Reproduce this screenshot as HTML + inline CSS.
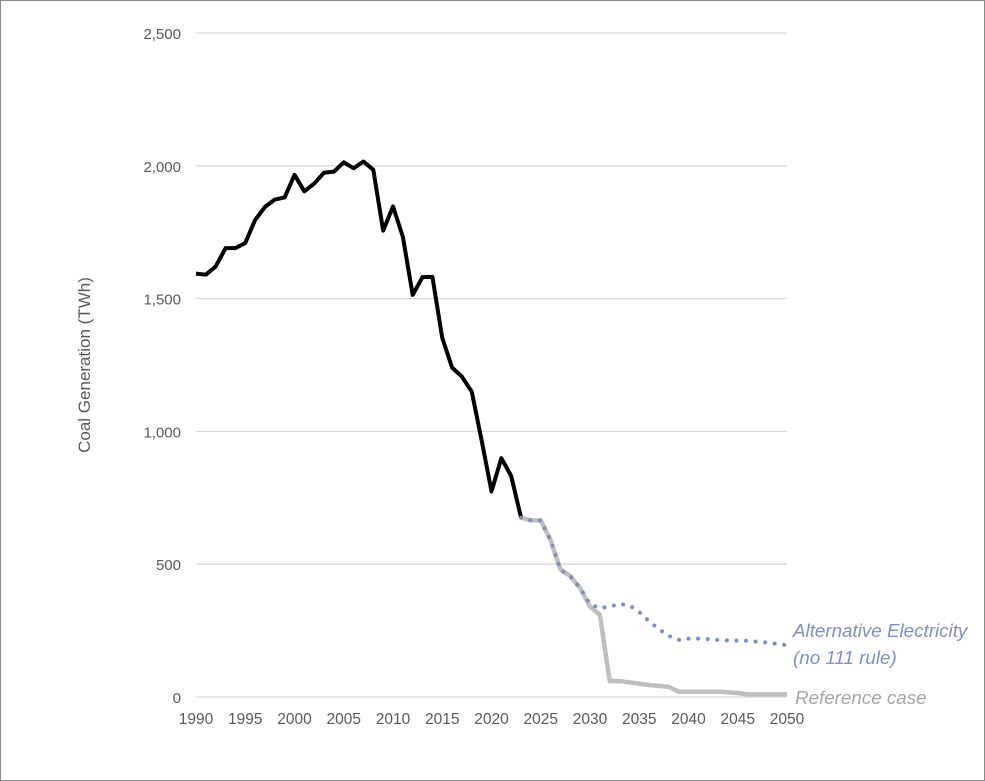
<!DOCTYPE html>
<html><head><meta charset="utf-8"><style>
html,body{margin:0;padding:0;background:#fff}
svg{display:block;font-family:"Liberation Sans",sans-serif}
</style></head><body>
<svg width="985" height="781">
<rect x="0.5" y="0.5" width="984" height="780" fill="#fff" stroke="#888"/>
<g id="grid"></g><g id="series"></g><g id="labels"></g>
<text x="90" y="365" transform="rotate(-90 90 365)" text-anchor="middle" font-size="17" fill="#595959">Coal Generation (TWh)</text>
<text x="793" y="637" font-size="18.8" font-style="italic" fill="#7f8fc4">Alternative Electricity</text>
<text x="793" y="664" font-size="18.8" font-style="italic" fill="#7f8fc4">(no 111 rule)</text>
<text x="795" y="704" font-size="18.8" font-style="italic" fill="#a6a6a6">Reference case</text>
</svg>
<script>
const histYears=[1990,1991,1992,1993,1994,1995,1996,1997,1998,1999,2000,2001,2002,2003,2004,2005,2006,2007,2008,2009,2010,2011,2012,2013,2014,2015,2016,2017,2018,2019,2020,2021,2022,2023];
const histValues=[1594,1590,1621,1690,1690,1709,1796,1845,1873,1881,1966,1904,1933,1974,1978,2013,1991,2016,1985,1756,1847,1733,1514,1581,1582,1352,1240,1206,1149,966,774,899,832,675];
const projYears=[2023,2024,2025,2026,2027,2028,2029,2030,2031,2032,2033,2034,2035,2036,2037,2038,2039,2040,2041,2042,2043,2044,2045,2046,2047,2048,2049,2050];
const refValues=[675,665,665,590,480,455,410,340,310,60,60,55,50,45,42,38,20,20,20,20,20,18,15,10,10,10,10,10];
const altValues=[675,665,665,590,480,455,410,350,335,340,350,345,320,285,255,230,215,220,220,218,215,213,212,212,208,205,200,195];
const yTicks=[0,500,1000,1500,2000,2500];
const yTickLabels=["0","500","1,000","1,500","2,000","2,500"];
const xTicks=[1990,1995,2000,2005,2010,2015,2020,2025,2030,2035,2040,2045,2050];
const NS="http://www.w3.org/2000/svg";
const x=v=>196+(v-1990)*(787-196)/60;
const y=v=>697-v*(697-33)/2500;
const grid=document.getElementById('grid'),ser=document.getElementById('series'),lab=document.getElementById('labels');
yTicks.forEach((t,i)=>{
 const l=document.createElementNS(NS,'line');
 l.setAttribute('x1',196);l.setAttribute('x2',787);l.setAttribute('y1',y(t));l.setAttribute('y2',y(t));
 l.setAttribute('stroke','#d9d9d9');l.setAttribute('stroke-width','1.3');
 
 
 grid.appendChild(l);
 const tx=document.createElementNS(NS,'text');
 tx.setAttribute('x',181);tx.setAttribute('y',y(t)+6);tx.setAttribute('text-anchor','end');
 tx.setAttribute('font-size','15');tx.setAttribute('fill','#595959');tx.textContent=yTickLabels[i];
 
 
 lab.appendChild(tx);
});
xTicks.forEach(t=>{
 const tx=document.createElementNS(NS,'text');
 tx.setAttribute('x',x(t));tx.setAttribute('y',724);tx.setAttribute('text-anchor','middle');
 tx.setAttribute('font-size','15.5');tx.setAttribute('fill','#595959');tx.textContent=t;
 
 
 lab.appendChild(tx);
});
function line(xs,vs,color,w,dash,name){
 const p=document.createElementNS(NS,'polyline');
 p.setAttribute('points',xs.map((a,i)=>x(a)+','+y(vs[i])).join(' '));
 p.setAttribute('fill','none');p.setAttribute('stroke',color);p.setAttribute('stroke-width',w);
 p.setAttribute('stroke-linejoin','round');
 if(dash){p.setAttribute('stroke-dasharray',dash);p.setAttribute('stroke-linecap','round');}
 
 
 ser.appendChild(p);
}
line(projYears,refValues,'#bfbfbf',4.5,null,'reference-case-line');
line(histYears,histValues,'#000',4,null,'historical-line');
line(projYears,altValues,'#7f8fc4',4,'0.1 9.5','alternative-electricity-line');
</script>
</body></html>
